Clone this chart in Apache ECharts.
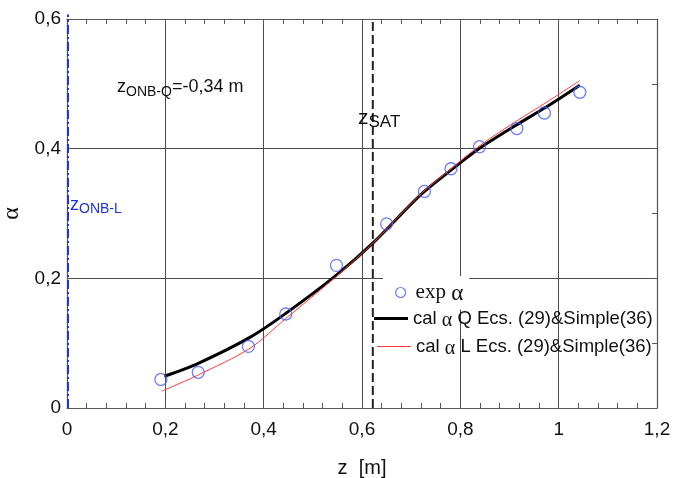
<!DOCTYPE html>
<html><head><meta charset="utf-8">
<script src="https://cdn.jsdelivr.net/npm/echarts@6/dist/echarts.min.js"></script>
<style>html,body{margin:0;padding:0;background:#fff}#c{width:686px;height:478px}</style>
</head><body><div id="c"></div>
<script>
// Experimental points
const expZ = [0.191, 0.267, 0.369, 0.445, 0.548, 0.650, 0.727, 0.781, 0.839, 0.915, 0.971, 1.043];
const expA = [0.044, 0.055, 0.095, 0.145, 0.220, 0.284, 0.334, 0.369, 0.403, 0.431, 0.455, 0.487];
// Calculated curve Q
const calQZ = [0.198, 0.267, 0.372, 0.445, 0.548, 0.623, 0.718, 0.786, 0.840, 0.915, 0.972, 1.043];
const calQA = [0.049, 0.069, 0.109, 0.146, 0.205, 0.255, 0.328, 0.370, 0.401, 0.437, 0.463, 0.498];
// Calculated curve L
const calLZ = [0.193, 0.267, 0.372, 0.445, 0.548, 0.623, 0.718, 0.786, 0.840, 0.915, 0.972, 1.043];
const calLA = [0.026, 0.051, 0.092, 0.138, 0.203, 0.255, 0.329, 0.372, 0.405, 0.443, 0.470, 0.505];
// Vertical reference lines
const zSat = 0.622;
const zOnbL = 0.002;
const xTicks = {min: 0, max: 1.2, interval: 0.2};
const yTicks = {min: 0, max: 0.6, interval: 0.2};

const pair = (xs, ys) => xs.map((x, i) => [x, ys[i]]);
const fmt = v => (Math.abs(v) < 1e-9 ? '0' : String(+v.toFixed(2)).replace('.', ','));

const chart = echarts.init(document.getElementById('c'));
const gridColor = '#4a4a4a';
const SANS = 'Liberation Sans, Arial, sans-serif';
const SERIF = 'Liberation Serif, Times New Roman, serif';
const BLUE = '#4a5cf0';
const RED = '#ff3b3b';
const axCommon = {
  type: 'value',
  axisLine: {show: true, onZero: false, lineStyle: {color: '#555', width: 1.2}},
  axisTick: {show: true, inside: true, length: 5, lineStyle: {color: '#555'}},
  splitLine: {show: true, lineStyle: {color: gridColor, width: 1}},
};
const legText = {
  fontFamily: SANS, fontSize: 18.5, color: '#111',
  rich: {
    a: {fontFamily: SANS, fontSize: 18.5, color: '#111'},
    g: {fontFamily: SERIF, fontSize: 20, color: '#111', padding: [5, 0, 0, 0]},
    t: {fontFamily: SERIF, fontSize: 21, color: '#111'},
    tg: {fontFamily: SERIF, fontSize: 23, color: '#111', padding: [3, 0, 0, 0]}
  }
};
chart.setOption({
  animation: false,
  backgroundColor: '#fff',
  grid: {left: 67, right: 29, top: 19, bottom: 70, outerBoundsMode: 'none', containLabel: false},
  xAxis: [
    Object.assign({}, axCommon, {
      min: xTicks.min, max: xTicks.max, interval: xTicks.interval,
      name: 'z  [m]', nameLocation: 'middle', nameGap: 50,
      nameTextStyle: {fontFamily: SANS, fontSize: 20, color: '#111'},
      axisLabel: {formatter: fmt, fontFamily: SANS, fontSize: 19, color: '#111', margin: 12},
      minorTick: {show: true, splitNumber: 5, length: 5, lineStyle: {color: '#555'}}
    }),
    Object.assign({}, axCommon, {
      position: 'top', min: xTicks.min, max: xTicks.max, interval: xTicks.interval,
      axisLabel: {show: false}, splitLine: {show: false},
      minorTick: {show: true, splitNumber: 5, length: 5, lineStyle: {color: '#555'}}
    })
  ],
  yAxis: [
    Object.assign({}, axCommon, {
      min: yTicks.min, max: yTicks.max, interval: yTicks.interval,
      name: 'α', nameLocation: 'middle', nameGap: 40, nameRotate: 90,
      nameTextStyle: {fontFamily: SERIF, fontSize: 24, color: '#111'},
      axisLabel: {formatter: fmt, fontFamily: SANS, fontSize: 19, color: '#111', margin: 6}
    }),
    Object.assign({}, axCommon, {
      position: 'right', min: yTicks.min, max: yTicks.max, interval: yTicks.interval,
      axisLabel: {show: false}, splitLine: {show: false},
      minorTick: {show: true, splitNumber: 2, length: 5, lineStyle: {color: '#555'}}
    })
  ],
  legend: [
    {
      data: [{name: 'exp α', icon: 'circle', itemStyle: {color: '#fff', borderColor: BLUE, borderWidth: 1.2}}],
      left: 383, top: 276, orient: 'vertical', padding: [6, 6, 4, 12],
      backgroundColor: '#fff', itemWidth: 10, itemHeight: 10,
      formatter: () => '{t|exp }{tg|α}', textStyle: Object.assign({}, legText, {padding: [0, 0, 0, 5]}),
      selectedMode: false
    },
    {
      data: [{name: 'cal α Q Ecs. (29)&Simple(36)', icon: 'rect', itemStyle: {color: '#000'}}],
      left: 374, top: 309, padding: 0, itemWidth: 34, itemHeight: 3,
      formatter: () => '{a|cal }{g|α}{a| Q Ecs. (29)&Simple(36)}', textStyle: legText,
      selectedMode: false
    },
    {
      data: [{name: 'cal α L Ecs. (29)&Simple(36)', icon: 'rect', itemStyle: {color: RED}}],
      left: 377, top: 337, padding: 0, itemWidth: 34, itemHeight: 1.2,
      formatter: () => '{a|cal }{g|α}{a| L Ecs. (29)&Simple(36)}', textStyle: legText,
      selectedMode: false
    }
  ],
  series: [
    {
      name: 'z_ONB-L', type: 'line', data: [[zOnbL, 0], [zOnbL, 0.607]], symbol: 'none',
      lineStyle: {color: '#1d33d6', width: 2, type: [9, 3, 2, 3]}, z: 5, clip: false
    },
    {
      name: 'z_SAT', type: 'line', data: [[zSat, 0], [zSat, 0.6]], symbol: 'none',
      lineStyle: {color: '#222', width: 2, type: [9, 4]}, z: 4
    },
    {
      name: 'cal α L Ecs. (29)&Simple(36)', type: 'line', data: pair(calLZ, calLA),
      symbol: 'none', smooth: 0.3, lineStyle: {color: RED, width: 1}, itemStyle: {color: RED}, z: 6
    },
    {
      name: 'cal α Q Ecs. (29)&Simple(36)', type: 'line', data: pair(calQZ, calQA),
      symbol: 'none', smooth: 0.3, lineStyle: {color: '#000', width: 3}, itemStyle: {color: '#000'}, z: 5
    },
    {
      name: 'exp α', type: 'scatter', data: pair(expZ, expA),
      symbol: 'circle', symbolSize: 12,
      itemStyle: {color: 'rgba(255,255,255,0)', borderColor: BLUE, borderWidth: 1.3}, z: 7
    }
  ],
  graphic: [
    {
      type: 'text', left: 117, top: 76, z: 10,
      style: {
        text: '{m|z}{s|ONB-Q}{m|=-0,34 m}',
        rich: {
          m: {fontFamily: SANS, fontSize: 18, fill: '#111', lineHeight: 22},
          s: {fontFamily: SANS, fontSize: 14, fill: '#111', padding: [9, 0, 0, 0], lineHeight: 22}
        }
      }
    },
    {
      type: 'text', left: 358, top: 106, z: 10,
      style: {
        text: '{m|z}{s|SAT}',
        rich: {
          m: {fontFamily: SANS, fontSize: 21, fill: '#111', lineHeight: 24},
          s: {fontFamily: SANS, fontSize: 17, fill: '#111', padding: [8, 0, 0, 0], lineHeight: 24}
        }
      }
    },
    {
      type: 'text', left: 70, top: 194, z: 10,
      style: {
        text: '{m|z}{s|ONB-L}',
        rich: {
          m: {fontFamily: SANS, fontSize: 18, fill: '#1d33d6', lineHeight: 22},
          s: {fontFamily: SANS, fontSize: 14, fill: '#1d33d6', padding: [8, 0, 0, 0], lineHeight: 22}
        }
      }
    }
  ]
});
</script></body></html>
